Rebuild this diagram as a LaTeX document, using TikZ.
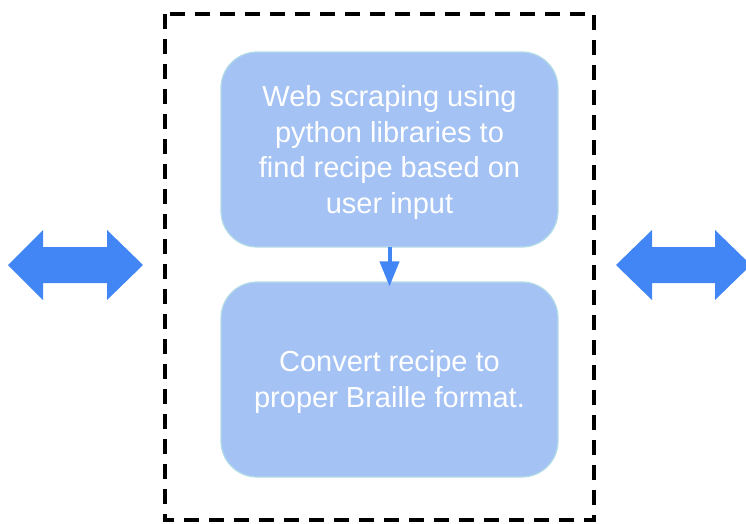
\documentclass[tikz,border=0pt]{standalone}
\usepackage{fontspec}
\setmainfont{Liberation Sans}
\usetikzlibrary{arrows.meta}
\definecolor{boxfill}{HTML}{A4C2F4}
\definecolor{boxedge}{HTML}{B3DCE6}
\definecolor{arrowblue}{HTML}{4285F4}
\begin{document}
\begin{tikzpicture}[x=1pt,y=-1pt,
  stepbox/.style={draw=boxedge,line width=1.2pt,fill=boxfill,rounded corners=36pt,
    minimum width=337pt,minimum height=195pt,inner sep=0pt,text=white,
    align=center,font=\fontsize{29}{35.5}\selectfont},
  flow/.style={draw=arrowblue,line width=4pt,-{Triangle[width=19pt,length=25pt]}},
  dblarrow/.style={fill=arrowblue}]
\useasboundingbox (0,0) rectangle (746,523);
% dashed frame
\draw[line width=3.2pt,dash pattern=on 15pt off 10pt] (165,14) rectangle (594,520);
% process boxes (text centred a little below the box middle)
\node[stepbox] (scrape) at (389.5,149.5) {};
\node[stepbox,draw=none,fill=none] (scrapetext) at (389.5,152.5) {Web scraping using\\python libraries to\\find recipe based on\\user input};
\node[stepbox] (braille) at (389.5,379.5) {};
\node[stepbox,draw=none,fill=none] (brailletext) at (389.5,382) {Convert recipe to\\proper Braille format.};
\draw[flow] ([yshift=1pt]scrape.south) -- ([yshift=-5pt]braille.north);
% double-headed block arrows on both sides
\fill[dblarrow] (8,265) -- (43,230) -- (43,247) -- (107,247) -- (107,230) -- (143,265)
  -- (107,300) -- (107,283) -- (43,283) -- (43,300) -- cycle;
\fill[dblarrow] (616,265) -- (652,230) -- (652,247) -- (715,247) -- (715,230) -- (751,265)
  -- (715,300) -- (715,283) -- (652,283) -- (652,300) -- cycle;
\end{tikzpicture}
\end{document}
